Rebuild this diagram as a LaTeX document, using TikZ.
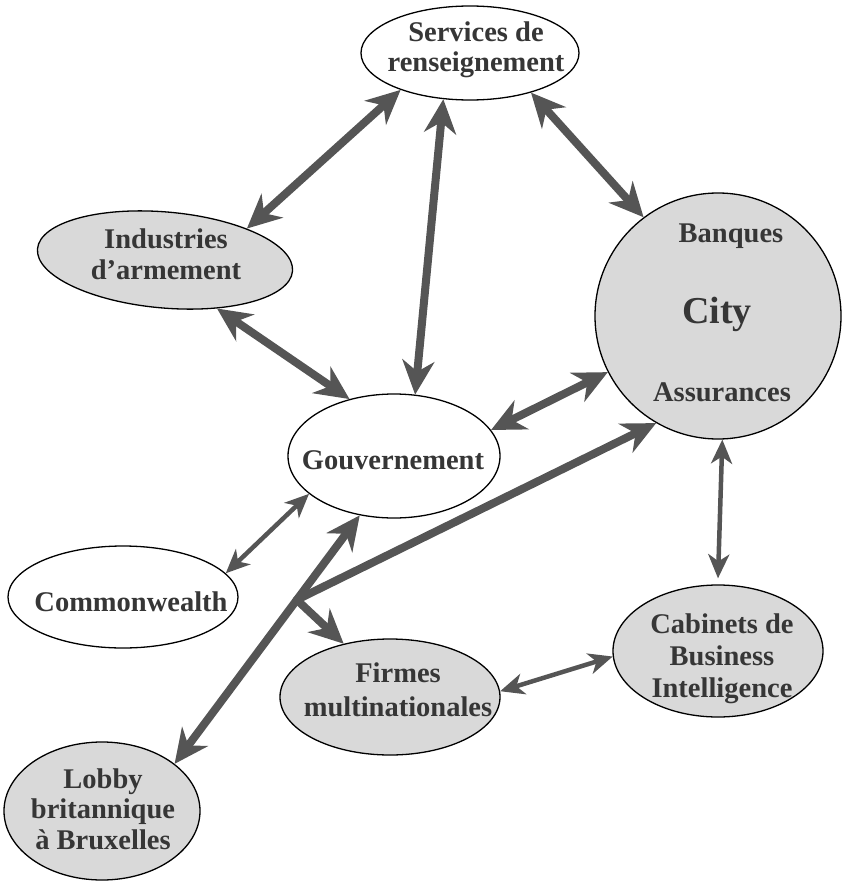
\documentclass[tikz,border=0pt]{standalone}
\usepackage{fontspec}
\setmainfont{Liberation Serif}
\usetikzlibrary{arrows.meta,shapes.geometric,calc}
\definecolor{arrowgray}{HTML}{555555}
\definecolor{fillgray}{HTML}{D9D9D9}
\definecolor{textgray}{HTML}{363636}
\tikzset{
  bighead/.tip={Stealth[length=34pt,width=32pt,inset=11pt]},
  smallhead/.tip={Stealth[length=24pt,width=21pt,inset=7pt]},
  bubble/.style={ellipse, draw=black, line width=1.3pt, inner sep=0pt},
  plainbub/.style={bubble, fill=white},
  greybub/.style={bubble, fill=fillgray},
  txt/.style={align=center, font=\bfseries\fontsize{28.5}{30.5}\selectfont, text=textgray, inner sep=0pt},
  bigline/.style={line width=8pt, draw=arrowgray},
  bigarrow/.style={bigline, bighead-bighead},
  smallarrow/.style={line width=4.5pt, draw=arrowgray, smallhead-smallhead},
}
\begin{document}
\begin{tikzpicture}[x=1pt,y=-1pt]
\useasboundingbox (0,0) rectangle (846,886);
% bubbles
\node[plainbub, minimum width=218pt, minimum height=94pt] (serv) at (470,53) {};
\node[greybub, minimum width=256pt, minimum height=96pt, rotate=-5] (ind) at (165,260) {};
\node[greybub, circle, minimum size=246pt] (city) at (718,316) {};
\node[plainbub, minimum width=212pt, minimum height=124pt] (gouv) at (394,456) {};
\node[plainbub, minimum width=230pt, minimum height=102pt] (comm) at (123,597) {};
\node[greybub, minimum width=220pt, minimum height=116pt] (firm) at (390,697) {};
\node[greybub, minimum width=210pt, minimum height=132pt] (cab) at (718,651) {};
\node[greybub, minimum width=196pt, minimum height=138pt] (lob) at (102,811) {};
% texts
\node[txt] (servt) at (476,50) {Services de\\renseignement};
\node[txt] (indt) at (166,254) {Industries\\d'armement};
\node[txt] (bank) at (731,236) {Banques};
\node[txt, font=\bfseries\fontsize{38}{40}\selectfont] (cityt) at (717,314) {City};
\node[txt] (assu) at (722,392) {Assurances};
\node[txt] (gouvt) at (393,460) {Gouvernement};
\node[txt] (commt) at (131,602) {Commonwealth};
\node[txt] (firmt) at (398,690) {Firmes\\[3pt]multinationales};
\node[txt] (cabt) at (722,659) {Cabinets de\\[1pt]Business\\[2pt]Intelligence};
\node[txt] (lobt) at (103,809) {Lobby\\britannique\\à Bruxelles};
% connectors
\draw[bigarrow] (serv.208) -- (ind.26);
\draw[bigarrow] (serv.240) -- (gouv.71);
\draw[bigarrow] (serv.-33) -- (city.127);
\draw[bigarrow] (ind.-38) -- (gouv.128);
\draw[bigarrow] (gouv.15) -- (city.207);
\draw[bigarrow] (lob.33) -- coordinate[pos=0.66] (J) (gouv.240);
\draw[bigline, line cap=round, bighead-] (city.240) -- (J);
\draw[bigline, line cap=round, -bighead] (J) -- (firm.131);
\draw[smallarrow] (comm.13) -- (gouv.204);
\draw[smallarrow] (firm.3) -- (cab.183);
\draw[smallarrow] (city.272) -- ($(cab.90)+(0,-6)$);
\end{tikzpicture}
\end{document}
